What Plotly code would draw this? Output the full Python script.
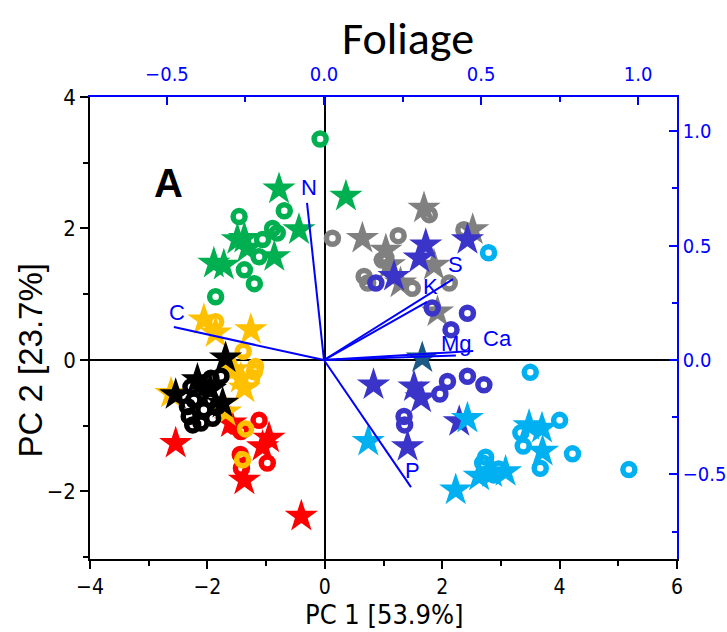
import plotly.graph_objects as go

# ---- PCA scores (PC1, PC2) by group ----
green_circ_x = [-0.08, -1.46, -0.69, -0.89, -0.81, -1.06, -1.12, -1.37, -1.20, -1.86]
green_circ_y = [3.36, 2.18, 2.27, 2.00, 1.93, 1.83, 1.57, 1.37, 1.16, 0.96]
green_star_x = [-0.78, -0.44, 0.36, -1.49, -1.37, -1.32, -0.86, -1.89, -1.72]
green_star_y = [2.60, 1.98, 2.49, 1.83, 1.85, 1.70, 1.57, 1.47, 1.44]

gray_circ_x = [0.13, 1.25, 1.78, 2.37, 0.98, 1.04, 0.67, 0.73, 1.49, 2.12]
gray_circ_y = [1.85, 1.89, 2.21, 1.98, 1.52, 1.56, 1.27, 1.17, 1.09, 1.17]
gray_star_x = [1.69, 0.64, 1.04, 1.86, 2.52, 1.29, 1.92, 1.10]
gray_star_y = [2.31, 1.85, 1.67, 1.44, 1.98, 1.17, 0.73, 1.45]

indigo_circ_x = [0.87, 1.83, 2.43, 2.15, 2.09, 1.96, 2.43, 2.71, 1.35, 1.36]
indigo_circ_y = [1.17, 0.79, 0.71, 0.46, -0.33, -0.52, -0.25, -0.38, -0.86, -0.99]
indigo_star_x = [1.72, 1.61, 1.18, 2.43, 0.83, 1.52, 1.64, 2.29, 1.41]
indigo_star_y = [1.75, 1.55, 1.27, 1.83, -0.38, -0.41, -0.58, -0.94, -1.32]

teal_star_x = [1.66]
teal_star_y = [0.03]

sky_circ_x = [2.79, 3.50, 4.00, 3.34, 3.38, 4.22, 3.67, 2.74, 2.69, 2.88, 2.96, 5.18]
sky_circ_y = [1.63, -0.19, -0.92, -1.11, -1.31, -1.43, -1.65, -1.48, -1.57, -1.75, -1.66, -1.67]
sky_star_x = [0.74, 2.43, 2.23, 2.63, 3.08, 3.48, 3.70, 3.71, 2.85]
sky_star_y = [-1.24, -0.89, -1.98, -1.77, -1.70, -1.00, -1.04, -1.39, -1.72]

red_circ_x = [-1.12, -1.55, -1.44, -0.98, -1.42, -1.43]
red_circ_y = [-0.92, -1.01, -1.44, -1.57, -1.65, -1.09]
red_star_x = [-2.54, -0.95, -1.06, -1.37, -0.40, -1.60]
red_star_y = [-1.27, -1.19, -1.32, -1.83, -2.38, -0.96]

gold_circ_x = [-1.86, -1.39, -1.18, -1.20, -1.35, -1.40, -1.25]
gold_circ_y = [0.58, 0.13, -0.10, -0.18, -1.05, -1.52, -0.30]
gold_star_x = [-2.06, -1.86, -1.26, -1.43, -1.37, -1.69, -2.62, -1.55]
gold_star_y = [0.61, 0.41, 0.46, -0.28, -0.43, -0.79, -0.51, -0.15]

black_circ_x = [-1.94, -1.77, -2.28, -2.03, -2.34, -2.23, -1.94, -2.31, -2.11, -1.91, -2.25, -1.83, -2.06]
black_circ_y = [-0.28, -0.25, -0.41, -0.43, -0.71, -0.61, -0.61, -0.86, -0.96, -0.89, -0.99, -0.71, -0.76]
black_star_x = [-1.69, -2.54, -2.17, -1.74, -1.95]
black_star_y = [0.03, -0.53, -0.30, -0.66, -0.45]

# ---- loadings (top / right axes) ----
load_names = ["N", "C", "S", "K", "Ca", "Mg", "P"]
load_x = [-0.054, -0.478, 0.411, 0.328, 0.475, 0.420, 0.277]
load_y = [0.687, 0.144, 0.354, 0.254, 0.039, 0.020, -0.556]
# label offsets in pixels (x, y)
label_shift = [(2, 15), (3, 15), (2, 15), (3, 15), (24, 13), (1, 12), (2, 17)]

GREEN = "#00b050"
GRAY = "#808080"
INDIGO = "#3a34c8"
TEAL = "#1c5a86"
SKY = "#00b0f0"
RED = "#ff0000"
GOLD = "#ffc000"
BLACK = "#000000"
BLUE = "#0000ff"

NARROW = "DejaVu Sans Condensed, Liberation Sans, sans-serif"
REGULAR = "Liberation Sans, Arial, sans-serif"

fig = go.Figure()


def circles(x, y, color):
    fig.add_trace(go.Scatter(
        x=x, y=y, mode="markers", showlegend=False, hoverinfo="skip",
        marker=dict(symbol="circle-open", size=12, color=color,
                    line=dict(color=color, width=5.5))))


def stars(x, y, color):
    fig.add_trace(go.Scatter(
        x=x, y=y, mode="markers", showlegend=False, hoverinfo="skip",
        marker=dict(symbol="star", size=25, color=color, line=dict(width=0))))


for cx, cy, sx, sy, col in [
    (green_circ_x, green_circ_y, green_star_x, green_star_y, GREEN),
    (gray_circ_x, gray_circ_y, gray_star_x, gray_star_y, GRAY),
    (indigo_circ_x, indigo_circ_y, indigo_star_x, indigo_star_y, INDIGO),
    (sky_circ_x, sky_circ_y, sky_star_x, sky_star_y, SKY),
    (red_circ_x, red_circ_y, red_star_x, red_star_y, RED),
    (gold_circ_x, gold_circ_y, gold_star_x, gold_star_y, GOLD),
    (black_circ_x, black_circ_y, black_star_x, black_star_y, BLACK),
]:
    circles(cx, cy, col)
    stars(sx, sy, col)

stars(teal_star_x, teal_star_y, TEAL)

# loading vectors from the origin
for name, lx, ly, (dx, dy) in zip(load_names, load_x, load_y, label_shift):
    fig.add_trace(go.Scatter(
        x=[0, lx], y=[0, ly], xaxis="x2", yaxis="y2", mode="lines",
        showlegend=False, hoverinfo="skip",
        line=dict(color=BLUE, width=2)))
    fig.add_annotation(
        x=lx, y=ly, xref="x2", yref="y2", text=name, showarrow=False,
        xshift=dx, yshift=dy, font=dict(family=REGULAR, size=22, color=BLUE))

fig.add_annotation(
    x=0.106, y=0.865, xref="paper", yref="paper", text="<b>A</b>",
    showarrow=False, font=dict(family=REGULAR, size=40, color="black"))

# axis titles
fig.add_annotation(
    x=0.5025, y=-0.12, xref="paper", yref="paper", text="PC 1 [53.9%]",
    showarrow=False, xanchor="center", yanchor="middle",
    font=dict(family=NARROW, size=27, color="black"))
fig.add_annotation(
    x=-0.102, y=0.43, xref="paper", yref="paper", text="PC 2 [23.7%]",
    showarrow=False, xanchor="center", yanchor="middle", textangle=-90,
    font=dict(family=REGULAR, size=33, color="black"))

common = dict(showgrid=False, automargin=False, tickwidth=1.5, ticklen=8, linewidth=1.5)

fig.update_layout(
    width=727, height=632,
    margin=dict(l=90, r=50, t=97, b=73),
    paper_bgcolor="white", plot_bgcolor="white",
    title=dict(text="Foliage", x=408 / 727, xanchor="center", y=1 - 38 / 632, yanchor="middle",
               font=dict(family="Carlito, Lato, Open Sans, sans-serif", size=46, color="black")),
    xaxis=dict(
        range=[-4, 6], dtick=2, tick0=0, **common,
        showline=True, linecolor="black",
        ticks="outside", tickcolor="black",
        minor=dict(dtick=1, ticks="outside", ticklen=5, tickwidth=1.5, tickcolor="black"),
        zeroline=True, zerolinecolor="black", zerolinewidth=1.5,
        tickfont=dict(family=NARROW, size=21, color="black"),
    ),
    yaxis=dict(
        range=[-3.03, 4], dtick=2, tick0=0, **common,
        showline=True, linecolor="black",
        ticks="outside", tickcolor="black",
        minor=dict(dtick=1, ticks="outside", ticklen=5, tickwidth=1.5, tickcolor="black"),
        zeroline=True, zerolinecolor="black", zerolinewidth=1.5,
        tickfont=dict(family=NARROW, size=22, color="black"),
    ),
    xaxis2=dict(
        overlaying="x", side="top", range=[-0.745, 1.124], dtick=0.5, tick0=0,
        **common, zeroline=False,
        showline=True, linecolor=BLUE,
        ticks="inside", tickcolor=BLUE,
        minor=dict(dtick=0.25, ticks="inside", ticklen=5, tickwidth=1.5, tickcolor=BLUE),
        tickformat=".1f", ticklabelstandoff=6,
        tickfont=dict(family=NARROW, size=20, color=BLUE),
    ),
    yaxis2=dict(
        overlaying="y", side="right", range=[-0.87, 1.150], dtick=0.5, tick0=0,
        **common, zeroline=False,
        showline=True, linecolor=BLUE,
        ticks="inside", tickcolor=BLUE,
        minor=dict(dtick=0.25, ticks="inside", ticklen=5, tickwidth=1.5, tickcolor=BLUE),
        tickformat=".1f",
        tickfont=dict(family=NARROW, size=20, color=BLUE),
    ),
)

fig.write_html("out.html")
